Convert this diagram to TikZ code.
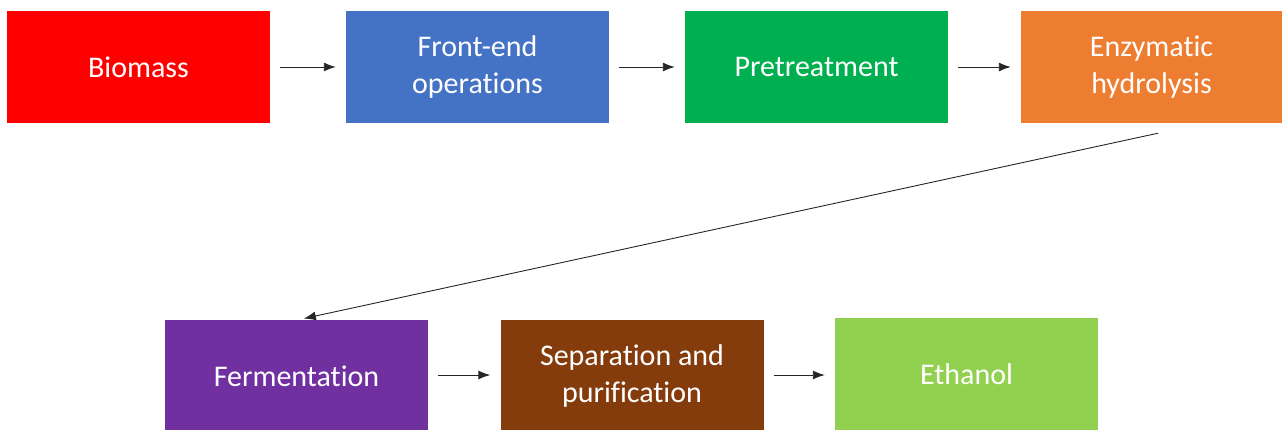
\documentclass[tikz,border=0pt]{standalone}
\usepackage{fontspec}
\setmainfont{Carlito}[Ligatures=NoCommon]
\usetikzlibrary{arrows.meta,positioning}
\definecolor{biored}{HTML}{FF0000}
\definecolor{opblue}{HTML}{4472C4}
\definecolor{pregreen}{HTML}{00B050}
\definecolor{enzorange}{HTML}{ED7D31}
\definecolor{fermpurple}{HTML}{7030A0}
\definecolor{sepbrown}{HTML}{843C0C}
\definecolor{ethgreen}{HTML}{92D050}

\begin{document}
\begin{tikzpicture}[x=1pt,y=-1pt,
  stage/.style={minimum width=263pt,minimum height=112pt,inner sep=0pt,
        text=white,align=center,font=\fontsize{30}{37}\selectfont},
  flow/.style={line width=0.9pt,black!85,-{Latex[length=12pt,width=9pt]},
        shorten <=10pt,shorten >=10pt}]
\useasboundingbox (0,0) rectangle (1282,429);
% top row
\node[stage,fill=biored] (bio) at (138.5,67) {Biomass};
\node[stage,fill=opblue] (front) at (477.5,67) {Front-end\\operations};
\node[stage,fill=pregreen] (pre) at (816.5,67) {Pretreatment};
\node[stage,fill=enzorange,minimum width=261pt] (enz) at (1151.5,67) {Enzymatic\\hydrolysis};
% bottom row
\node[stage,fill=fermpurple] (ferm) at (296.5,376) {Fermentation};
\node[stage,fill=sepbrown] (sep) at (632,376) {Separation and\\purification};
\node[stage,fill=ethgreen] (eth) at (966.5,374) {Ethanol};
% arrows
\coordinate (down) at ([xshift=6.5pt,yshift=-10pt]enz.south);
\draw[flow,shorten <=0pt,shorten >=6pt] (down) -- ([xshift=1.5pt]ferm.north);
\draw[flow] (bio) -- (front);
\draw[flow] (front) -- (pre);
\draw[flow] (pre) -- (enz);
\draw[flow] (ferm.east |- 0,375) -- (sep.west |- 0,375);
\draw[flow] (sep.east |- 0,375) -- (eth.west |- 0,375);
\end{tikzpicture}
\end{document}
